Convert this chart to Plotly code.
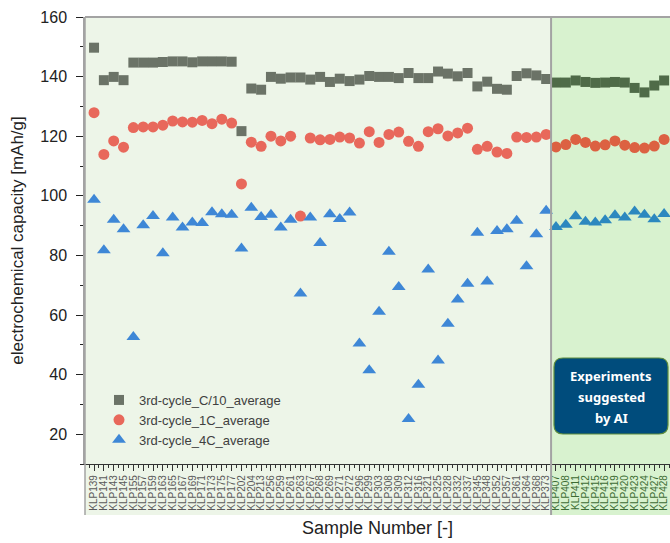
import numpy as np
import plotly.graph_objects as go

# ---------------- data ----------------
samples_prev = ["KLP139", "KLP141", "KLP143", "KLP145", "KLP155", "KLP157", "KLP159", "KLP163",
                "KLP165", "KLP167", "KLP169", "KLP171", "KLP173", "KLP175", "KLP177", "KLP202",
                "KLP204", "KLP213", "KLP256", "KLP259", "KLP261", "KLP263", "KLP267", "KLP268",
                "KLP269", "KLP271", "KLP272", "KLP296", "KLP299", "KLP303", "KLP308", "KLP309",
                "KLP312", "KLP316", "KLP321", "KLP325", "KLP328", "KLP332", "KLP337", "KLP345",
                "KLP348", "KLP352", "KLP357", "KLP361", "KLP364", "KLP368", "KLP373"]
samples_ai = ["KLP407", "KLP408", "KLP411", "KLP412", "KLP415", "KLP416", "KLP419", "KLP420",
              "KLP423", "KLP424", "KLP427", "KLP428"]

cap_c10 = [149.7, 138.8, 139.9, 138.8, 144.7, 144.7, 144.7, 144.9, 145.1, 145.1, 144.8, 145.1,
           145.1, 145.1, 145.0, 121.7, 136.0, 135.6, 139.9, 139.3, 139.7, 139.7, 139.0, 139.9,
           138.2, 139.3, 138.5, 139.0, 140.2, 139.9, 139.9, 139.5, 141.2, 139.5, 139.5, 141.7,
           141.0, 140.1, 141.2, 136.7, 138.3, 135.9, 135.6, 140.2, 141.1, 140.4, 139.2,
           138.0, 138.0, 138.7, 138.2, 137.9, 138.0, 138.2, 138.0, 136.2, 134.7, 137.0, 138.7]
cap_1c = [127.9, 113.9, 118.4, 116.3, 122.9, 123.1, 123.1, 123.7, 125.1, 124.8, 124.7, 125.3,
          124.2, 125.7, 124.4, 104.0, 118.0, 116.6, 120.0, 118.4, 120.0, 93.2, 119.4, 118.8,
          118.9, 119.7, 119.4, 117.7, 121.5, 117.9, 120.6, 121.4, 118.3, 116.6, 121.5, 122.5,
          120.1, 121.1, 122.7, 115.6, 116.6, 114.7, 114.2, 119.7, 119.6, 119.7, 120.6,
          116.4, 117.2, 118.9, 117.9, 116.7, 117.1, 118.4, 117.0, 116.2, 116.0, 116.7, 118.9]
cap_4c = [98.7, 81.7, 92.0, 88.8, 52.6, 90.1, 93.2, 80.7, 92.7, 89.4, 91.0, 90.9,
          94.5, 93.8, 93.6, 82.3, 96.0, 92.9, 93.6, 89.4, 92.0, 67.2, 92.7, 84.2,
          93.8, 92.2, 94.4, 50.4, 41.5, 61.1, 81.2, 69.4, 25.1, 36.6, 75.3, 44.7,
          57.1, 65.2, 70.5, 87.6, 71.2, 88.2, 88.8, 91.6, 76.4, 87.1, 95.0,
          89.5, 90.3, 93.1, 91.3, 91.0, 91.8, 93.5, 92.7, 94.7, 93.6, 92.1, 93.9]

series_names = ["3rd-cycle_C/10_average", "3rd-cycle_1C_average", "3rd-cycle_4C_average"]
y_ticks = [20, 40, 60, 80, 100, 120, 140, 160]

# ---------------- styling ----------------
W, H = 670, 543
ML, MR, MT, MB = 85, 0, 17, 79
X_RANGE = [-0.92, 58.6]
Y_RANGE = [10, 160]

colors_prev = ["#6B7367", "#E8685B", "#3E87D6"]
colors_ai = ["#4F6B48", "#DC6142", "#2C88BF"]
symbols = ["square", "circle", "triangle-up"]
sizes = [10, 11, 12]
BG_PREV = "#EDF5E8"
BG_AI = "#D8F2CF"
FRAME = "#A3A3A3"

samples = samples_prev + samples_ai
n_prev = len(samples_prev)
xi = np.arange(len(samples))
all_series = [cap_c10, cap_1c, cap_4c]

fig = go.Figure()
for k, vals in enumerate(all_series):
    vals = np.asarray(vals)
    fig.add_trace(go.Scatter(
        x=xi[:n_prev], y=vals[:n_prev], mode="markers", name=series_names[k],
        marker=dict(symbol=symbols[k], size=sizes[k], color=colors_prev[k],
                    line=dict(width=0)),
        legendgroup=series_names[k]))
    fig.add_trace(go.Scatter(
        x=xi[n_prev:], y=vals[n_prev:], mode="markers", name=series_names[k],
        marker=dict(symbol=symbols[k], size=sizes[k], color=colors_ai[k],
                    line=dict(width=0)),
        legendgroup=series_names[k], showlegend=False))

bx = (n_prev - 0.5 - X_RANGE[0]) / (X_RANGE[1] - X_RANGE[0])
pw = W - ML - MR
ph = H - MT - MB


def px_to_paper_x(px):
    return (px - ML) / pw


def px_to_paper_y(py):
    return (H - MB - py) / ph


y_bottom = px_to_paper_y(515)

shapes = [
    dict(type="rect", xref="paper", yref="paper", x0=0, x1=bx, y0=y_bottom, y1=1,
         fillcolor=BG_PREV, line=dict(width=0), layer="below"),
    dict(type="rect", xref="paper", yref="paper", x0=bx, x1=1, y0=y_bottom, y1=1,
         fillcolor=BG_AI, line=dict(width=0), layer="below"),
    dict(type="line", xref="paper", yref="paper", x0=0, x1=1, y0=1, y1=1,
         line=dict(color=FRAME, width=2)),
    dict(type="line", xref="paper", yref="paper", x0=bx, x1=bx, y0=y_bottom, y1=1,
         line=dict(color=FRAME, width=2)),
    dict(type="line", xref="paper", yref="paper", x0=0, x1=0, y0=y_bottom, y1=1,
         line=dict(color=FRAME, width=1.5)),
]

bx0, bx1 = px_to_paper_x(554), px_to_paper_x(668)
by0, by1 = px_to_paper_y(434), px_to_paper_y(358)
rx, ry = 9 / pw, 9 / ph
path = (f"M {bx0+rx},{by0} L {bx1-rx},{by0} Q {bx1},{by0} {bx1},{by0+ry} "
        f"L {bx1},{by1-ry} Q {bx1},{by1} {bx1-rx},{by1} L {bx0+rx},{by1} "
        f"Q {bx0},{by1} {bx0},{by1-ry} L {bx0},{by0+ry} Q {bx0},{by0} {bx0+rx},{by0} Z")
shapes.append(dict(type="path", xref="paper", yref="paper", path=path,
                   fillcolor="#004C7C", line=dict(color="#5E8C3E", width=1.2),
                   layer="above"))

annotations = []
cx = (bx0 + bx1) / 2
for line_txt, py in zip(["Experiments", "suggested", "by AI"], [376, 397, 418]):
    annotations.append(dict(
        text=f"<b>{line_txt}</b>", xref="paper", yref="paper", x=cx, y=px_to_paper_y(py),
        xanchor="center", yanchor="middle", showarrow=False,
        font=dict(family="Noto Sans", size=13, color="white")))

ticktext = ([f"<span style='color:#5A5A5A'>{s}</span>" for s in samples_prev] +
            [f"<span style='color:#3C6B33'>{s}</span>" for s in samples_ai])

fig.update_layout(
    width=W, height=H,
    margin=dict(l=ML, r=MR, t=MT, b=MB, autoexpand=False),
    paper_bgcolor="white", plot_bgcolor="rgba(0,0,0,0)",
    font=dict(family="Liberation Sans", color="#222"),
    shapes=shapes, annotations=annotations,
    showlegend=True,
    legend=dict(x=px_to_paper_x(99), y=px_to_paper_y(385), xanchor="left", yanchor="top",
                bgcolor="rgba(0,0,0,0)", font=dict(size=13, color="#404040"),
                itemwidth=30, tracegroupgap=0),
    xaxis=dict(
        range=X_RANGE, tickmode="array", tickvals=xi, ticktext=ticktext,
        tickangle=-90, tickfont=dict(size=10, color="#5A5A5A"),
        ticks="outside", ticklen=6, tickcolor="#333", tickwidth=1,
        minor=dict(tickmode="linear", tick0=0.5, dtick=1, ticks="outside", ticklen=3,
                   tickcolor="#333"),
        showline=True, linecolor="#333", linewidth=1.2,
        showgrid=False, zeroline=False,
        title=dict(text="Sample Number [-]", font=dict(size=18, color="#222"), standoff=11),
    ),
    yaxis=dict(
        range=Y_RANGE, tickmode="array", tickvals=y_ticks,
        tickfont=dict(size=16, color="#222"),
        ticks="outside", ticklen=7, tickcolor="#222", tickwidth=1,
        ticklabelstandoff=6,
        minor=dict(tickmode="linear", tick0=10, dtick=20, ticks="outside", ticklen=3,
                   tickcolor="#222"),
        showline=True, linecolor=FRAME, linewidth=1.5,
        showgrid=False, zeroline=False,
        title=dict(text="electrochemical capacity [mAh/g]", font=dict(size=17, color="#222"),
                   standoff=12),
    ),
)

fig.write_html("out.html",
               config={"displayModeBar": False},
               post_script="document.body.style.margin='0px';"
                           "document.documentElement.style.overflow='hidden';")
